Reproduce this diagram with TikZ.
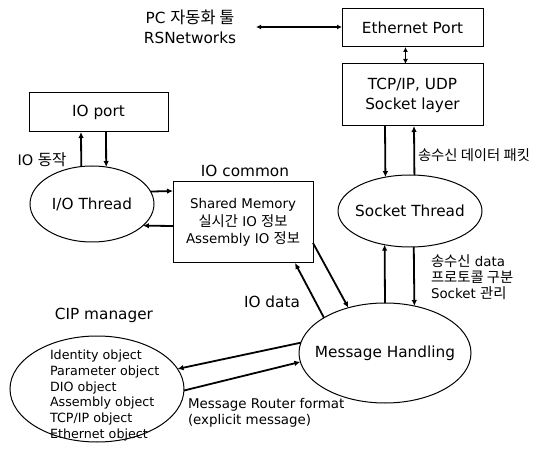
\documentclass[tikz,border=0pt]{standalone}
\usepackage{fontspec}
\setmainfont{DejaVu Sans}
\newfontfamily\kr[Scale=1.07]{Noto Sans CJK KR}
\usetikzlibrary{shapes.geometric,arrows.meta}
\begin{document}
\begin{tikzpicture}[x=1pt,y=-1pt,
  box/.style={draw,line width=1pt,rectangle,inner sep=0pt,outer sep=0pt,align=center},
  oval/.style={draw,line width=1pt,ellipse,inner sep=0pt,outer sep=0pt},
  arr/.style={line width=1.8pt,-{Latex[length=6pt,width=5.5pt]}},
  biarr/.style={line width=1.8pt,{Latex[length=5pt,width=5pt]}-{Latex[length=5pt,width=5pt]}},
  txt/.style={inner sep=0pt,outer sep=0pt,align=center},
  bigf/.style={font=\fontsize{15.3}{19.5}\selectfont},
  midf/.style={font=\fontsize{13.4}{17.5}\selectfont},
  smlf/.style={font=\fontsize{13.4}{15.8}\selectfont},
  cipf/.style={font=\fontsize{12.7}{15.8}\selectfont},
]
\useasboundingbox[fill=white] (0,0) rectangle (538,462);
% boxes
\node[box,font=\fontsize{15.3}{19.5}\selectfont,minimum width=141pt,minimum height=38pt] (eth) at (412.5,28) {Ethernet Port};
\node[box,font=\fontsize{15.3}{20}\selectfont,minimum width=141pt,minimum height=62pt] (tcp) at (412.5,95) {TCP/IP, UDP\\Socket layer};
\node[box,font=\fontsize{15.3}{19.5}\selectfont,minimum width=139pt,minimum height=39pt] (ioport) at (98.5,112.5) {IO port};
\node[box,font=\fontsize{13.4}{17.5}\selectfont,minimum width=140pt,minimum height=81pt] (ioc) at (243,222.5) {Shared Memory\\{\kr 실시간} IO {\kr 정보}\\Assembly IO {\kr 정보}};
% ellipses
\node[oval,minimum width=124pt,minimum height=76pt,label={[bigf]center:I/O Thread}] (iot) at (92,204) {};
\node[oval,minimum width=144pt,minimum height=72pt,label={[bigf]center:Socket Thread}] (sock) at (410,211) {};
\node[oval,minimum width=172pt,minimum height=100pt,label={[bigf]center:Message Handling}] (mh) at (385,353) {};
\node[oval,minimum width=174pt,minimum height=106pt] (cip) at (97,389) {};
% texts
\node[txt,bigf] (pc) at (190,27) {PC {\kr 자동화 툴}\\RSNetworks};
\node[txt,font=\fontsize{14.5}{17}\selectfont] (iodong) at (42,160) {IO {\kr 동작}};
\node[txt,bigf] (iocl) at (245,171) {IO common};
\node[txt,smlf,anchor=west] (pkt) at (418,155) {{\kr 송수신 데이터 패킷}};
\node[txt,smlf,anchor=west,align=left] (sockl) at (431,277) {{\kr 송수신} data\\{\kr 프로토콜 구분}\\Socket {\kr 관리}};
\node[txt,bigf] (iodata) at (272,302) {IO data};
\node[txt,bigf] (cipl) at (104,315) {CIP manager};
\node[txt,cipf,anchor=west,align=left] (cipt) at (50,395.5) {Identity object\\Parameter object\\DIO object\\Assembly object\\TCP/IP object\\Ethernet object};
\node[txt,smlf,anchor=west,align=left] (mrf) at (188,412.5) {Message Router format\\(explicit message)};
% connectors
\draw[biarr] ([xshift=20pt]pc.east) -- (pc.east -| eth.west);
\draw[biarr] ([xshift=-7pt]eth.south) -- ([xshift=-7pt]tcp.north);
\draw[arr] ([xshift=-27.5pt]tcp.south) -- (sock.126.5);
\draw[arr] (sock.83.6) -- ([xshift=1.5pt]tcp.south);
\draw[arr] (mh.north) -- (sock.233.5);
\draw[arr] (sock.276.4) -- (mh.58.4);
\draw[arr] (iot.106.4) -- ([xshift=-17.5pt]ioport.south);
\draw[arr] ([xshift=7.5pt]ioport.south) -- (iot.69.3);
\draw[arr] (iot.12.6) -- ([yshift=31.5pt]ioc.west);
\draw[arr] ([yshift=-3.5pt]ioc.west) -- (iot.-23.5);
\draw[arr] (mh.150.6) -- ([xshift=52pt]ioc.south);
\draw[arr] ([yshift=-20.5pt]ioc.east) -- (mh.129.4);
\draw[arr] (mh.173.2) -- (cip.14.7);
\draw[arr] (cip.-1) -- (mh.186.8);
\end{tikzpicture}
\end{document}
